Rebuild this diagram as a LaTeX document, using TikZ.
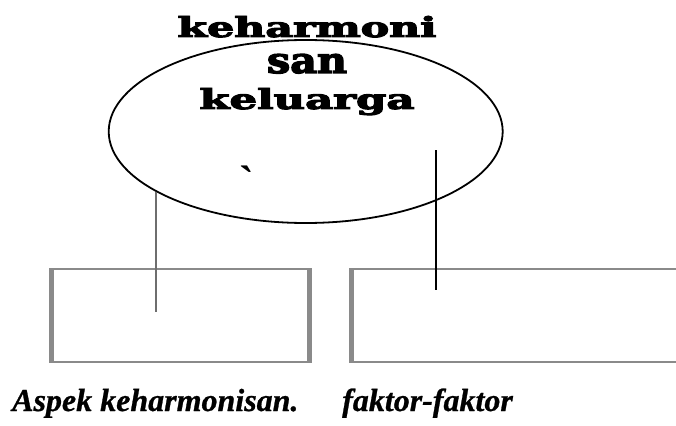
\documentclass[tikz,border=0pt]{standalone}
\usepackage{fontspec}
\usepackage{graphicx}
\setmainfont{Liberation Serif}
\newfontfamily\capfont{Liberation Serif}[UprightFont={* Bold Italic},FakeBold=0.8]
\newfontfamily\titlefont{DejaVu Serif}[UprightFont={* Bold},FakeBold=3.5]
\usetikzlibrary{shapes.geometric}
\definecolor{boxgray}{HTML}{8A8A8A}
\definecolor{linegray}{HTML}{6E6E6E}
\tikzset{
  oval/.style={ellipse, draw=black, line width=1.8pt, minimum width=394pt, minimum height=183pt, inner sep=0pt},
  framebox/.style={draw=boxgray, line width=2pt, inner sep=0pt},
  titleline/.style={anchor=base, inner sep=0pt, font=\titlefont\bfseries},
  caption/.style={anchor=base west, inner sep=0pt, font=\fontsize{32}{38}\selectfont\capfont},
  side/.style={draw=boxgray, line width=5pt},
  conn/.style={line width=1.6pt}
}
\begin{document}
\begin{tikzpicture}[x=1pt,y=-1pt]
\useasboundingbox (0,0) rectangle (676,425);
% ellipse
\node[oval] (e) at (305.7,131.5) {};
% title
\node[titleline] (t1) at (307,37) {\resizebox{259pt}{21pt}{keharmoni}};
\node[titleline] (t2) at (307,73) {\resizebox{80pt}{19pt}{san}};
\node[titleline] (t3) at (307,109) {\resizebox{215pt}{21pt}{keluarga}};
% stray mark
\node[inner sep=0pt, font=\fontsize{44}{44}\selectfont\bfseries] (mk) at (246.5,181) {\textasciigrave};
% boxes
\node[framebox, minimum width=259pt, minimum height=93pt] (b1) at (180.5,315.5) {};
\draw[side] ([xshift=1.5pt]b1.north west) -- ([xshift=1.5pt]b1.south west);
\draw[side] ([xshift=-1.5pt]b1.north east) -- ([xshift=-1.5pt]b1.south east);
\node[framebox, minimum width=340pt, minimum height=93pt] (b2) at (521,315.5) {};
\draw[side] ([xshift=1.5pt]b2.north west) -- ([xshift=1.5pt]b2.south west);
% connectors
\coordinate (c1) at (160,312);
\coordinate (c2a) at (436,150);
\coordinate (c2b) at (436,290);
\draw[conn, draw=linegray] (e.202.9) -- (e.202.9 |- c1);
\draw[conn, draw=black] (c2a) -- (c2b);
% captions
\node[caption] (l1) at (12,411) {Aspek keharmonisan.};
\node[caption] (l2) at (342,411) {faktor-faktor};
\end{tikzpicture}
\end{document}
